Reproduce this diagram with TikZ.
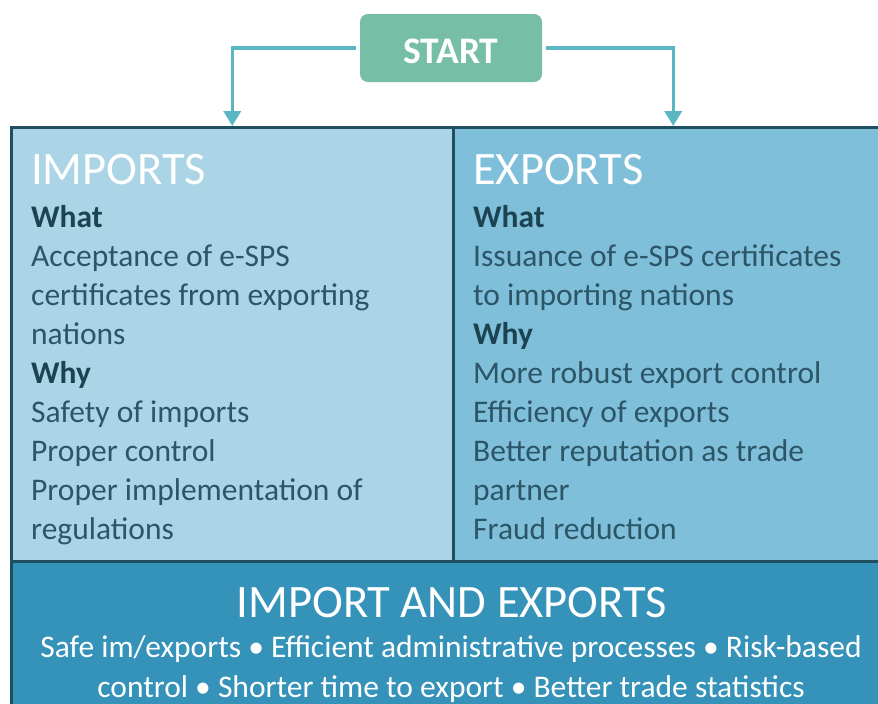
\documentclass[tikz,border=0pt]{standalone}
\usepackage{fontspec}
\setmainfont{Carlito}
\usetikzlibrary{arrows.meta}

\definecolor{startgreen}{HTML}{77BEA7}
\definecolor{flowteal}{HTML}{5AB6C3}
\definecolor{impfill}{HTML}{ABD5E6}
\definecolor{expfill}{HTML}{7FBFDA}
\definecolor{bothfill}{HTML}{3592B9}
\definecolor{edge}{HTML}{1F4F60}
\definecolor{bodytext}{HTML}{2C5667}
\definecolor{headtext}{HTML}{1B4352}

\tikzset{
  startbox/.style={fill=startgreen, rounded corners=8pt, minimum width=182pt,
    minimum height=68pt, text height=30pt, text depth=0pt, text=white,
    font=\fontsize{37.5}{40}\selectfont\bfseries},
  panel/.style={draw=edge, line width=2.5pt, anchor=north west, inner sep=0pt},
  flow/.style={draw=flowteal, line width=3.5pt,
    -{Triangle[length=15pt,width=17pt]}, shorten <=4pt},
  title/.style={anchor=base west, inner sep=0pt, text=white,
    font=\fontsize{46.5}{50}\selectfont},
  line/.style={anchor=base west, inner sep=0pt, text=bodytext,
    font=\fontsize{31.5}{39}\selectfont},
  what/.style={line, text=headtext, font=\fontsize{31.5}{39}\selectfont\bfseries},
  summary/.style={anchor=base, inner sep=0pt, text=white}
}

\begin{document}
\begin{tikzpicture}[x=1pt,y=-1pt]
\useasboundingbox (0,0) rectangle (878,704);

% the three panels
\node[panel, fill=impfill, minimum width=442pt, minimum height=434pt] (imports) at (10,126) {};
\node[panel, fill=expfill, minimum width=440pt, minimum height=434pt] (exports) at (452,126) {};
\node[panel, fill=bothfill, minimum width=882pt, minimum height=170pt] (both) at (10,560) {};

% start and its two branches
\node[startbox] (start) at (451,48) {START};
\draw[flow] (start.west) -| (imports.north);
\draw[flow] (start.east) -| (exports.north);

% imports column
\node[title] (imptitle) at (31,184) {IMPORTS};
\node[what] (impwhat) at (31,227) {What};
\foreach \txt [count=\i] in {Acceptance of e-SPS, certificates from exporting, nations}
  \node[line] (impa-\i) at (31,227+39*\i) {\txt};
\node[what] (impwhy) at (31,383) {Why};
\foreach \txt [count=\i] in {Safety of imports, Proper control,
    Proper implementation of, regulations}
  \node[line] (impb-\i) at (31,383+39*\i) {\txt};

% exports column
\node[title] (exptitle) at (473,184) {EXPORTS};
\node[what] (expwhat) at (473,227) {What};
\foreach \txt [count=\i] in {Issuance of e-SPS certificates, to importing nations}
  \node[line] (expa-\i) at (473,227+39*\i) {\txt};
\node[what] (expwhy) at (473,344) {Why};
\foreach \txt [count=\i] in {More robust export control, Efficiency of exports,
    Better reputation as trade, partner, Fraud reduction}
  \node[line] (expb-\i) at (473,344+39*\i) {\txt};

% joint benefits
\node[summary, font=\fontsize{46.5}{50}\selectfont] (bothtitle) at (452,617) {IMPORT AND EXPORTS};
\node[summary, font=\fontsize{31.5}{40}\selectfont] (both-1) at (451,657)
  {Safe im/exports • Efficient administrative processes • Risk-based};
\node[summary, font=\fontsize{31.5}{40}\selectfont] (both-2) at (451,697)
  {control • Shorter time to export • Better trade statistics};
\end{tikzpicture}
\end{document}
